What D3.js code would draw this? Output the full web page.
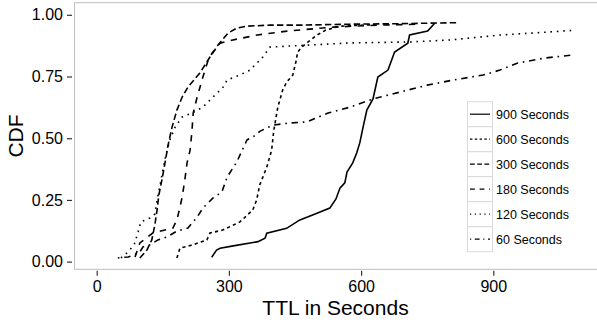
<!DOCTYPE html>
<html>
<head>
<meta charset="utf-8">
<script src="https://cdn.jsdelivr.net/npm/d3@7"></script>
<style>
  body { margin: 0; background: #fff; }
  text { font-family: "Liberation Sans", Arial, Helvetica, sans-serif; }
</style>
</head>
<body>
<div id="chart"></div>
<script>
// values, [TTL seconds, CDF]
const xTicks = [0, 300, 600, 900];
const yTicks = [0, 0.25, 0.5, 0.75, 1];
const seriesNames = ['900 Seconds', '600 Seconds', '300 Seconds', '180 Seconds', '120 Seconds', '60 Seconds'];

const ttl900 = [[261,0.018],[272,0.047],[280,0.054],[310,0.064],[366,0.081],[382,0.095],[386,0.115],[431,0.135],
  [461,0.169],[490,0.189],[529,0.217],[543,0.254],[552,0.298],[563,0.319],[568,0.363],[581,0.40],[590,0.44],
  [597,0.481],[604,0.541],[613,0.614],[627,0.659],[638,0.748],[661,0.776],[676,0.849],[706,0.885],[710,0.918],
  [751,0.934],[767,0.966]];

const ttl600 = [[182,0.015],[189,0.055],[218,0.068],[250,0.088],[257,0.116],[286,0.128],[325,0.161],[354,0.209],
  [363,0.25],[370,0.311],[386,0.383],[397,0.452],[402,0.533],[411,0.626],[422,0.695],[431,0.727],[445,0.756],
  [452,0.809],[456,0.849],[465,0.869],[479,0.889],[500,0.918],[520,0.938],[552,0.954],[631,0.96]];

const ttl300 = [[98,0.015],[114,0.047],[125,0.088],[132,0.149],[137,0.209],[141,0.27],[148,0.331],[155,0.40],
  [162,0.472],[171,0.545],[182,0.614],[194,0.667],[207,0.707],[234,0.764],[257,0.829],[268,0.857],[275,0.877],
  [298,0.926],[318,0.946],[341,0.954],[393,0.958],[461,0.958],[575,0.962],[688,0.964],[818,0.968]];

const ttl180 = [[87,0.019],[98,0.076],[128,0.117],[173,0.136],[182,0.169],[189,0.221],[194,0.262],[200,0.331],
  [205,0.40],[212,0.452],[216,0.525],[219,0.602],[228,0.667],[241,0.748],[253,0.817],[262,0.845],[280,0.885],
  [309,0.898],[364,0.918],[432,0.934],[536,0.95],[636,0.958],[734,0.962]];

const ttl120 = [[55,0.015],[71,0.039],[85,0.068],[94,0.12],[100,0.161],[121,0.177],[132,0.193],[137,0.25],
  [144,0.311],[150,0.371],[157,0.432],[166,0.493],[178,0.545],[194,0.586],[216,0.602],[241,0.626],[264,0.667],
  [287,0.707],[296,0.736],[325,0.756],[348,0.776],[377,0.829],[393,0.869],[432,0.873],[477,0.877],[575,0.886],
  [711,0.89],[802,0.898],[870,0.91],[915,0.918],[1006,0.928],[1081,0.937]];

const ttl60 = [[48,0.015],[71,0.019],[85,0.027],[98,0.039],[105,0.06],[121,0.068],[139,0.088],[160,0.10],
  [182,0.124],[207,0.136],[228,0.181],[241,0.217],[264,0.258],[284,0.282],[296,0.343],[318,0.404],[341,0.493],
  [355,0.506],[371,0.529],[400,0.553],[439,0.562],[477,0.566],[525,0.602],[575,0.626],[627,0.659],[688,0.687],
  [750,0.715],[813,0.737],[877,0.756],[915,0.776],[954,0.804],[1017,0.825],[1081,0.837]];

const seriesValues = [ttl900, ttl600, ttl300, ttl180, ttl120, ttl60];
const lineTypes = [null, [2, 2], [4, 2], [4, 4], [1, 3], [1, 3, 4, 3]];

const width = 597, height = 322;
const panel = { left: 74, right: 597, top: 2.7, bottom: 269.3 };

const svg = d3.select('#chart')
  .append('svg')
  .attr('width', width)
  .attr('height', height);

const x = d3.scaleLinear()
  .domain([-51.5, 1135.3])
  .range([panel.left, panel.right]);

const y = d3.scaleLinear()
  .domain([-0.031, 1.049])
  .range([panel.bottom, panel.top]);

// panel border (right edge falls just outside the picture)
svg.append('rect')
  .attr('x', panel.left + 0.5)
  .attr('y', panel.top)
  .attr('width', 540)
  .attr('height', panel.bottom - panel.top)
  .attr('fill', 'none')
  .attr('stroke', '#bdbdbd')
  .attr('stroke-width', 1);

const yAxis = svg.append('g')
  .attr('transform', 'translate(' + (panel.left - 2) + ',0)')
  .call(d3.axisLeft(y).tickValues(yTicks).tickFormat(d3.format('.2f')).tickSize(5).tickPadding(4));

const xAxis = svg.append('g')
  .attr('transform', 'translate(0,' + (panel.bottom + 1.5) + ')')
  .call(d3.axisBottom(x).tickValues(xTicks).tickFormat(d3.format('d')).tickSize(5).tickPadding(5));

[yAxis, xAxis].forEach(a => {
  a.select('.domain').remove();
  a.selectAll('.tick line').attr('stroke', '#333').attr('stroke-width', 1.2);
  a.selectAll('.tick text').attr('fill', '#000').style('font-size', '16px');
});

svg.append('text')
  .attr('transform', 'translate(23,136) rotate(-90)')
  .attr('text-anchor', 'middle')
  .style('font-size', '21px')
  .text('CDF');

svg.append('text')
  .attr('x', (panel.left + panel.right) / 2)
  .attr('y', 315)
  .attr('text-anchor', 'middle')
  .style('font-size', '21px')
  .text('TTL in Seconds');

const lineW = 1.6;
const line = d3.line()
  .x(d => x(d[0]))
  .y(d => y(d[1]));

svg.append('g')
  .selectAll('path')
  .data(seriesValues)
  .enter()
  .append('path')
  .attr('d', d => line(d))
  .attr('fill', 'none')
  .attr('stroke', '#000')
  .attr('stroke-width', lineW)
  .attr('stroke-dasharray', (d, i) => lineTypes[i] ? lineTypes[i].map(v => v * lineW).join(',') : null);

// legend
const keyW = 25, keyH = 25, legW = 1.2;
const legend = svg.append('g')
  .attr('transform', 'translate(467.5,101.7)');

const item = legend.selectAll('g')
  .data(seriesNames)
  .enter()
  .append('g')
  .attr('transform', (d, i) => 'translate(0,' + (i * keyH) + ')');

item.append('rect')
  .attr('width', keyW)
  .attr('height', keyH)
  .attr('fill', '#fff')
  .attr('stroke', '#d9d9d9')
  .attr('stroke-width', 1);

item.append('line')
  .attr('x1', 2.5)
  .attr('x2', keyW - 2.5)
  .attr('y1', keyH / 2)
  .attr('y2', keyH / 2)
  .attr('stroke', '#000')
  .attr('stroke-width', legW)
  .attr('stroke-dasharray', (d, i) => lineTypes[i] ? lineTypes[i].map(v => v * legW).join(',') : null);

item.append('text')
  .attr('x', keyW + 3.5)
  .attr('y', keyH / 2)
  .attr('dy', '0.35em')
  .style('font-size', '12.5px')
  .attr('fill', '#000')
  .text(d => d);
</script>
</body>
</html>
